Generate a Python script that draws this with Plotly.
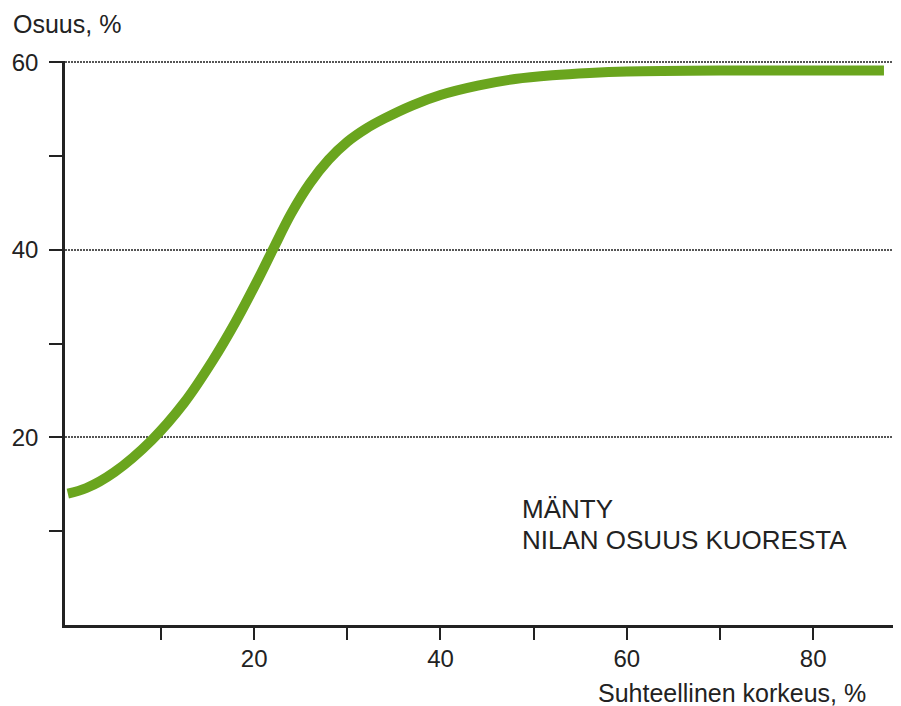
import plotly.graph_objects as go

# Relative height (%) and share of inner bark (%)
height_pct = [0, 2, 5, 9, 12.5, 15.5, 18, 20.5, 22, 24, 26, 28, 30, 32, 34, 37, 40, 44, 48, 52, 56, 60, 70, 80, 87.6]
share_pct = [14.0, 14.6, 16.3, 19.7, 23.7, 28.1, 32.3, 37.0, 40.0, 43.9, 47.1, 49.6, 51.5, 52.9, 54.0, 55.4, 56.5, 57.5, 58.2, 58.6, 58.85, 59.0, 59.1, 59.1, 59.1]

y_major = [20, 40, 60]
y_minor = [10, 30, 50]
x_major = [20, 40, 60, 80]
x_minor = [10, 30, 50, 70]

FONT = "Liberation Sans, Arial, sans-serif"
INK = "#222"

# page body has an 8px margin: figure is sized/margined to compensate
fig = go.Figure()
fig.add_trace(go.Scatter(
    x=height_pct, y=share_pct, mode="lines",
    line=dict(color="#6aa51e", width=10, shape="spline", smoothing=1.0),
    hoverinfo="skip", showlegend=False,
))

fig.update_layout(
    width=893, height=698,
    margin=dict(l=54, r=4, t=53, b=81),
    paper_bgcolor="white", plot_bgcolor="white",
    font=dict(family=FONT, size=24, color=INK),
    showlegend=False,
    xaxis=dict(
        range=[-0.3, 89], showgrid=False, zeroline=False,
        showline=True, linecolor=INK, linewidth=2.5,
        tickmode="array", tickvals=x_major, ticktext=[str(v) for v in x_major],
        ticks="outside", ticklen=12, tickwidth=2, tickcolor=INK,
        tickfont=dict(size=24, color=INK), ticklabelstandoff=-2,
        minor=dict(tickmode="array", tickvals=x_minor, ticks="outside", ticklen=12,
                   tickwidth=2, tickcolor=INK, showgrid=False),
    ),
    yaxis=dict(
        range=[0, 60.12], showgrid=True, gridcolor="#555555", gridwidth=2, griddash="2px,1px",
        zeroline=False, showline=True, linecolor=INK, linewidth=2.5,
        tickmode="array", tickvals=y_major, ticktext=[str(v) for v in y_major],
        ticks="outside", ticklen=13, tickwidth=2, tickcolor=INK,
        tickfont=dict(size=24, color=INK), ticklabelstandoff=6,
        minor=dict(tickmode="array", tickvals=y_minor, ticks="outside", ticklen=13,
                   tickwidth=2, tickcolor=INK, showgrid=False),
    ),
    annotations=[
        dict(text="Osuus, %", xref="paper", yref="paper", x=-0.0647, y=1.0656,
             xanchor="left", yanchor="middle", showarrow=False,
             font=dict(size=25, color=INK)),
        dict(text="Suhteellinen korkeus, %", xref="paper", yref="paper", x=0.9653, y=-0.1206,
             xanchor="right", yanchor="middle", showarrow=False,
             font=dict(size=25, color=INK)),
        dict(text="MÄNTY", xref="paper", yref="paper", x=0.5473, y=0.2057,
             xanchor="left", yanchor="middle", showarrow=False,
             font=dict(size=26, color=INK)),
        dict(text="NILAN OSUUS KUORESTA", xref="paper", yref="paper", x=0.5473, y=0.1507,
             xanchor="left", yanchor="middle", showarrow=False,
             font=dict(size=26, color=INK)),
    ],
)

fig.write_html("out.html")
